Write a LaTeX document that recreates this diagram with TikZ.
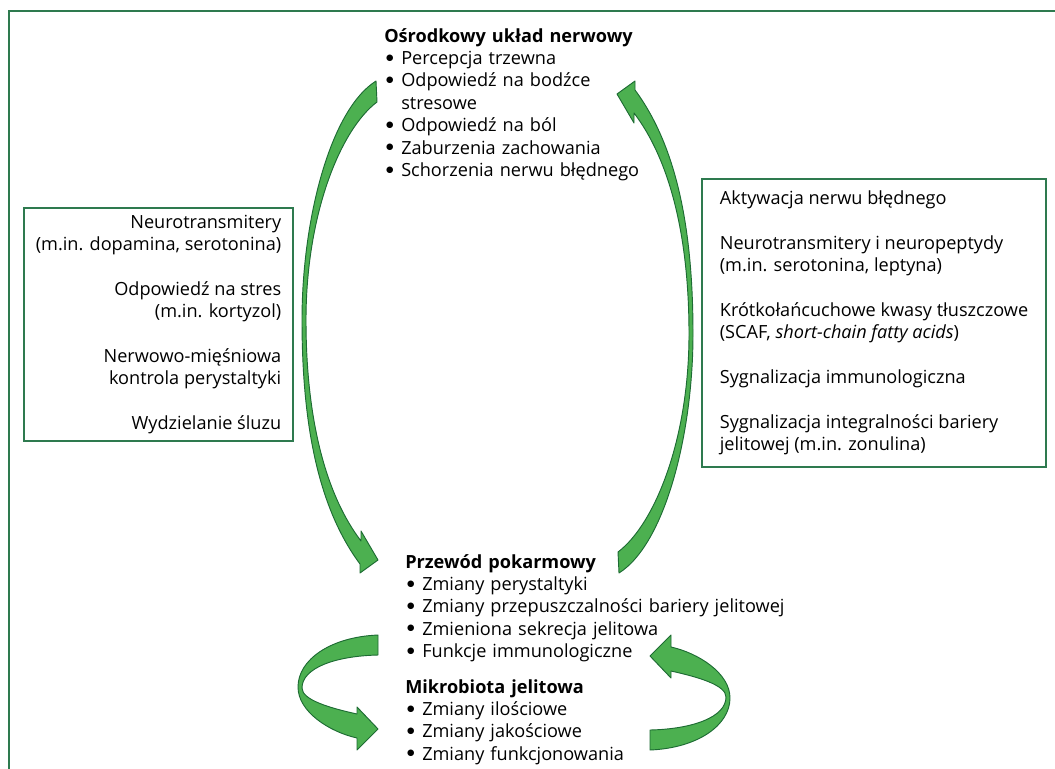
\documentclass[tikz,border=0pt]{standalone}
\usepackage{fontspec}
\setmainfont{Open Sans}
\newfontfamily\dotfont{DejaVu Sans}
\usetikzlibrary{positioning}
\definecolor{framegreen}{HTML}{2E7A4F}
\definecolor{bandfill}{HTML}{4CB050}
\definecolor{bandline}{HTML}{1D6B33}
\setlength{\lineskiplimit}{-10pt}
\newcommand{\itm}{\makebox[12.75pt][l]{\hspace{1.4pt}\raisebox{3.3pt}{\dotfont\fontsize{6.4}{6.4}\selectfont ●}}}
\newcommand{\itmgap}{\hspace*{12.75pt}}
% curved block arrows (pixel coordinates, y down)
\newcommand{\bigbend}{(376,81) .. controls (330,110) and (302,220) .. (302,320)
  .. controls (302,430) and (320,510) .. (360,564) -- (360,573) -- (378,560)
  -- (361,531) -- (361,541) .. controls (326,495) and (306,420) .. (306,320)
  .. controls (306,215) and (340,130) .. (377,102) -- cycle}
\newcommand{\smallbend}{(378,635) .. controls (330,637) and (298,660) .. (298,687)
  .. controls (298,712) and (330,732) .. (357,738) -- (357,750) -- (378,729)
  -- (357,707) -- (357,714) .. controls (330,708) and (302,700) .. (302,688)
  .. controls (302,668) and (335,656) .. (378,655) -- cycle}

\begin{document}
\begin{tikzpicture}[x=0.75pt,y=-0.75pt,
  every node/.style={font=\fontsize{13.6}{16.8}\selectfont, inner sep=0pt},
  block/.style={anchor=base west, align=left, text width=#1},
  infobox/.style={draw=framegreen, line width=1.1pt},
  band/.style={fill=bandfill, draw=bandline, line width=0.7pt, line join=round}]
  \useasboundingbox (0,0) rectangle (1055,768);
  \clip (0,0) rectangle (1055,768);

  % Outer frame (runs off the right and bottom edges)
  \draw[framegreen, line width=1.5pt] (8.5,800) |- (1100,10.5);

  % Central nervous system
  \node[block=250pt] (cns) at (384,42) {\textbf{Ośrodkowy układ nerwowy}\\
    \itm Percepcja trzewna\\
    \itm Odpowiedź na bodźce\\
    \itmgap stresowe\\
    \itm Odpowiedź na ból\\
    \itm Zaburzenia zachowania\\
    \itm Schorzenia nerwu błędnego};

  % Gut
  \node[block=300pt] (gut) at (405,568) {\textbf{Przewód pokarmowy}\\
    \itm Zmiany perystaltyki\\
    \itm Zmiany przepuszczalności bariery jelitowej\\
    \itm Zmieniona sekrecja jelitowa\\
    \itm Funkcje immunologiczne};

  % Microbiota
  \node[block=250pt] (micro) at (405,693) {\textbf{Mikrobiota jelitowa}\\
    \itm Zmiany ilościowe\\
    \itm Zmiany jakościowe\\
    \itm Zmiany funkcjonowania};

  % Left box: brain to gut signals
  \node[infobox, align=right, minimum width=201.75pt, minimum height=174.75pt] (down) at (158.5,324.5) {Neurotransmitery\\
    (m.in. dopamina, serotonina)\\[16.8pt]
    Odpowiedź na stres\\
    (m.in. kortyzol)\\[16.8pt]
    Nerwowo-mięśniowa\\
    kontrola perystaltyki\\[16.8pt]
    Wydzielanie śluzu};

  % Right box: gut to brain signals
  \node[infobox, align=left, minimum width=258pt, minimum height=216pt] (up) at (874,323) {Aktywacja nerwu błędnego\\[16.8pt]
    Neurotransmitery i neuropeptydy\\
    (m.in. serotonina, leptyna)\\[16.8pt]
    Krótkołańcuchowe kwasy tłuszczowe\\
    (SCAF, \textit{short-chain fatty acids})\\[16.8pt]
    Sygnalizacja immunologiczna\\[16.8pt]
    Sygnalizacja integralności bariery\\
    jelitowej (m.in. zonulina)};

  % Curved arrows
  \filldraw[band] \bigbend;
  \begin{scope}[rotate around={180:(497.5,327)}]
    \filldraw[band] \bigbend;
  \end{scope}
  \filldraw[band] \smallbend;
  \begin{scope}[rotate around={180:(514,692.5)}]
    \filldraw[band] \smallbend;
  \end{scope}
\end{tikzpicture}
\end{document}
